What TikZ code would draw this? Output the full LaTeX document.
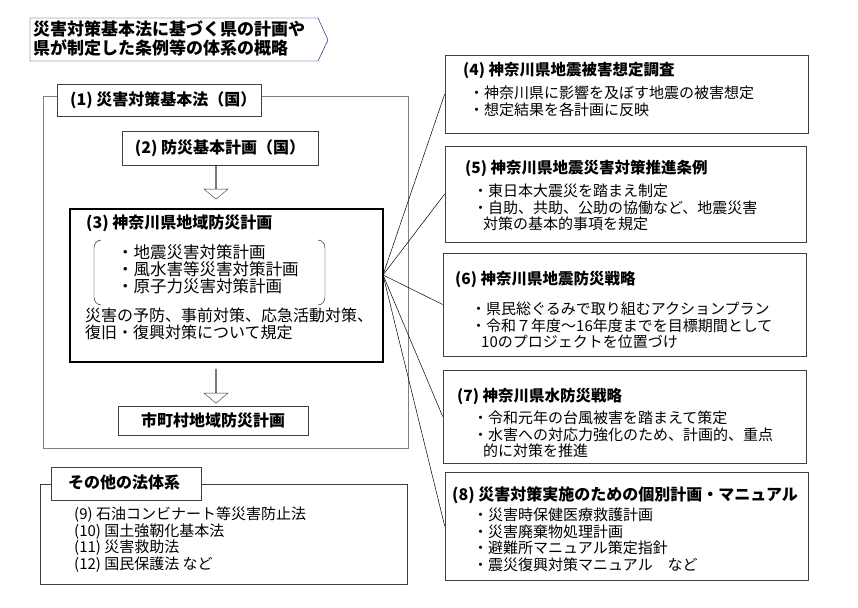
\documentclass[tikz,border=0pt]{standalone}
\usepackage{fontspec}
\setmainfont{Noto Sans CJK JP}
\usetikzlibrary{shapes.arrows}

\tikzset{
  box/.style={draw=black!75, line width=0.6pt, inner sep=0pt},
  head/.style={anchor=north west, inner sep=0pt, font=\fontsize{15.5}{17}\selectfont\bfseries},
  body/.style={anchor=north west, inner sep=0pt, align=left, font=\fontsize{15}{16.5}\selectfont},
  flow/.style={draw=black!80, single arrow, shape border rotate=270, minimum height=34pt,
    minimum width=24pt, single arrow head extend=6pt, single arrow tip angle=100, inner sep=0pt}
}

\begin{document}
\begin{tikzpicture}[x=1pt,y=-1pt]
\useasboundingbox (0,0) rectangle (858,607);

% title
\draw[draw=black!60!blue] (30,18) -- (318,18) -- (328,40) -- (318,61) -- (30,61) -- cycle;
\node[body, font=\fontsize{17}{19}\selectfont\bfseries] (title) at (33,21) {災害対策基本法に基づく県の計画や\\県が制定した条例等の体系の概略};

% left frame
\draw[draw=black!50, line width=1pt] (43,97) rectangle (408,448);
\node[box, fill=white, minimum width=204pt, minimum height=32pt] (law) at (159,100) {};
\node[head, font=\fontsize{16}{17}\selectfont\bfseries] at (70,91) {(1) 災害対策基本法（国）};
\node[box, minimum width=196pt, minimum height=34pt, font=\fontsize{16}{17}\selectfont\bfseries] (basic) at (220,148) {(2) 防災基本計画（国）};
\node[flow] (ar1) at (216,182) {};

\node[draw, line width=1.5pt, minimum width=313pt, minimum height=153pt] (pref) at (226.5,285.5) {};
\node[head, font=\fontsize{16}{17}\selectfont\bfseries] (prefT) at (86,215) {(3) 神奈川県地域防災計画};
\draw (101,240) to[out=180,in=90] (94,248) -- (94,297) to[out=-90,in=180] (101,305);
\draw (318,240) to[out=0,in=90] (325,248) -- (325,297) to[out=-90,in=0] (318,305);
\node[body, font=\fontsize{16.5}{17}\selectfont] (plans) at (117,244) {・地震災害対策計画\\・風水害等災害対策計画\\・原子力災害対策計画};
\node[body, font=\fontsize{16}{17}\selectfont] (prefB) at (85,308) {災害の予防、事前対策、応急活動対策、\\復旧・復興対策について規定};
\node[flow] (ar2) at (216,386) {};
\node[box, minimum width=190pt, minimum height=29pt, font=\fontsize{16}{17}\selectfont\bfseries] (city) at (213,420.5) {市町村地域防災計画};

% other laws
\draw[draw=black!75] (40,484) rectangle (407,584);
\node[box, fill=white, minimum width=150pt, minimum height=33pt] (other) at (126,483.5) {};
\node[head, font=\fontsize{16}{17}\selectfont\bfseries] at (68,475) {その他の法体系};
\node[body] (otherB) at (74,507) {(9) 石油コンビナート等災害防止法\\(10) 国土強靭化基本法\\(11) 災害救助法\\(12) 国民保護法 など};

% right boxes
\node[box, minimum width=363pt, minimum height=78pt] (b4) at (626.5,94) {};
\node[head] at (463,62) {(4) 神奈川県地震被害想定調査};
\node[body] at (469,86) {・神奈川県に影響を及ぼす地震の被害想定\\・想定結果を各計画に反映};

\node[box, minimum width=361pt, minimum height=96pt] (b5) at (625.5,194) {};
\node[head] at (465,160) {(5) 神奈川県地震災害対策推進条例};
\node[body] at (473,184) {・東日本大震災を踏まえ制定\\・自助、共助、公助の協働など、地震災害\\\hspace{10pt}対策の基本的事項を規定};

\node[box, minimum width=363pt, minimum height=103pt] (b6) at (624.5,304.5) {};
\node[head] at (455,271) {(6) 神奈川県地震防災戦略};
\node[body] at (471,302) {・県民総ぐるみで取り組むアクションプラン\\・令和７年度〜16年度までを目標期間として\\\hspace{10pt}10のプロジェクトを位置づけ};

\node[box, minimum width=363pt, minimum height=93pt] (b7) at (624.5,416.5) {};
\node[head] at (457,388) {(7) 神奈川県水防災戦略};
\node[body] at (473,411) {・令和元年の台風被害を踏まえて策定\\・水害への対応力強化のため、計画的、重点\\\hspace{10pt}的に対策を推進};

\node[box, minimum width=363pt, minimum height=108pt] (b8) at (626.5,526) {};
\node[head, font=\fontsize{16}{17}\selectfont\bfseries] at (452,486) {(8) 災害対策実施のための個別計画・マニュアル};
\node[body] at (473,508) {・災害時保健医療救護計画\\・災害廃棄物処理計画\\・避難所マニュアル策定指針\\・震災復興対策マニュアル\quad など};

% links
\coordinate (src) at (383,275);
\foreach \b in {b4,b5,b6,b7,b8}
  \draw[line width=0.5pt] (src) -- (\b.west);
\end{tikzpicture}
\end{document}
